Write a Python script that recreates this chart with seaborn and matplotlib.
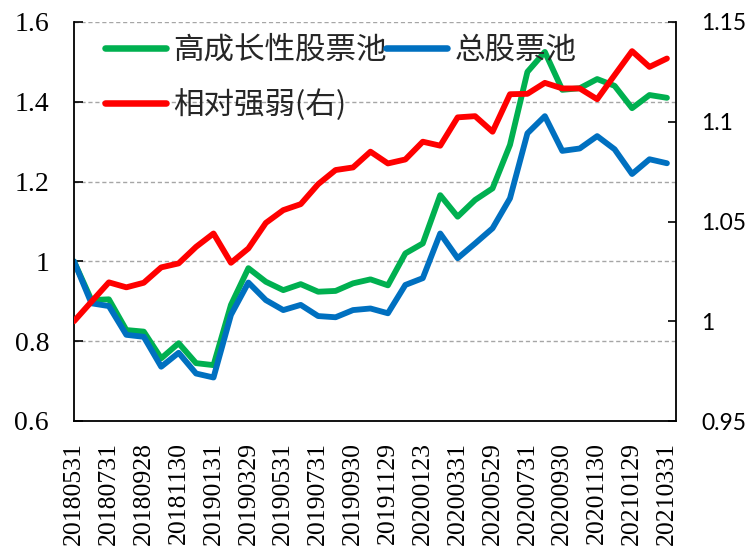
import matplotlib
matplotlib.use("Agg")
import matplotlib.pyplot as plt
import seaborn as sns
import pandas as pd
import numpy as np

dates = ["20180531", "20180629", "20180731", "20180831", "20180928", "20181031",
         "20181130", "20181228", "20190131", "20190228", "20190329", "20190430",
         "20190531", "20190628", "20190731", "20190830", "20190930", "20191031",
         "20191129", "20191231", "20200123", "20200228", "20200331", "20200430",
         "20200529", "20200630", "20200731", "20200831", "20200930", "20201030",
         "20201130", "20201231", "20210129", "20210226", "20210331"]

growth_pool = [1.000, 0.903, 0.905, 0.828, 0.824, 0.757, 0.795, 0.745, 0.740,
               0.891, 0.983, 0.949, 0.928, 0.943, 0.924, 0.926, 0.945, 0.955,
               0.940, 1.020, 1.045, 1.166, 1.112, 1.154, 1.183, 1.292, 1.475,
               1.525, 1.430, 1.434, 1.457, 1.440, 1.384, 1.417, 1.410]

total_pool = [1.000, 0.895, 0.888, 0.816, 0.811, 0.736, 0.771, 0.719, 0.709,
              0.866, 0.947, 0.903, 0.878, 0.891, 0.863, 0.860, 0.878, 0.882,
              0.870, 0.941, 0.958, 1.070, 1.008, 1.045, 1.083, 1.158, 1.321,
              1.364, 1.277, 1.283, 1.314, 1.281, 1.219, 1.256, 1.246]

relative_strength = [1.000, 1.0098, 1.0195, 1.017, 1.0193, 1.027, 1.029, 1.0373,
                     1.044, 1.0293, 1.0365, 1.0493, 1.0557, 1.0587, 1.0687, 1.0758,
                     1.0771, 1.085, 1.0791, 1.0811, 1.090, 1.088, 1.1022, 1.1028,
                     1.095, 1.1138, 1.114, 1.1195, 1.1167, 1.1167, 1.1113, 1.1234,
                     1.1354, 1.1275, 1.1317]

names = ["高成长性股票池", "总股票池", "相对强弱(右)"]
colors = ["#00B050", "#0070C0", "#FF0000"]

df = pd.DataFrame({"idx": np.arange(len(dates)), "date": dates,
                   "growth": growth_pool, "total": total_pool,
                   "rel": relative_strength})

sns.set_style("white")
serif_fonts = ["Liberation Serif", "Times New Roman", "Nimbus Roman", "DejaVu Serif"]
plt.rcParams["font.family"] = ["Noto Sans CJK SC", "DejaVu Sans"]

fig = plt.figure(figsize=(7.56, 5.52), dpi=100)
ax = fig.add_axes([74 / 756, 1 - 421 / 552, (676 - 74) / 756, (421 - 22) / 552])
ax2 = ax.twinx()

lw = 4.2
sns.lineplot(data=df, x="idx", y="growth", ax=ax, color=colors[0], lw=lw,
             label=names[0], legend=False)
sns.lineplot(data=df, x="idx", y="total", ax=ax, color=colors[1], lw=lw,
             label=names[1], legend=False)
sns.lineplot(data=df, x="idx", y="rel", ax=ax2, color=colors[2], lw=lw,
             label=names[2], legend=False)

n = len(dates)
ax.set_xlim(0, n - 1 + 0.52)
ax.set_ylim(0.6, 1.6)
ax2.set_ylim(0.95, 1.15)

ax.set_xticks(np.arange(n))
ax.set_xticklabels([d if i % 2 == 0 else "" for i, d in enumerate(dates)],
                   rotation=90)
yt = [0.6, 0.8, 1.0, 1.2, 1.4, 1.6]
ax.set_yticks(yt)
ax.set_yticklabels(["0.6", "0.8", "1", "1.2", "1.4", "1.6"])
yt2 = [0.95, 1.0, 1.05, 1.1, 1.15]
ax2.set_yticks(yt2)
ax2.set_yticklabels(["0.95", "1", "1.05", "1.1", "1.15"])

ax.set_xlabel("")
ax.set_ylabel("")
ax2.set_ylabel("")

ax.tick_params(axis="x", direction="in", length=5, width=1.2, pad=15, colors="black",
               labelsize=18.5)
ax.tick_params(axis="y", direction="in", length=6.5, width=1.2, pad=18, colors="black",
               labelsize=20)
ax2.tick_params(axis="y", direction="in", length=6, width=1.2, pad=18, colors="black",
                labelsize=16.5)
for lbl in ax.get_xticklabels() + ax.get_yticklabels():
    lbl.set_fontfamily(serif_fonts)
for lbl in ax2.get_yticklabels():
    lbl.set_fontfamily(["Lato", "DejaVu Sans"])

ax.yaxis.grid(True, linestyle=(0, (3, 2)), color="#A6A6A6", lw=1.0)
ax.xaxis.grid(False)
ax2.grid(False)

for a in (ax, ax2):
    a.spines["top"].set_visible(False)
    for s in ("left", "right", "bottom"):
        a.spines[s].set_color("black")
        a.spines[s].set_linewidth(1.3)
ax.spines["right"].set_visible(False)
ax2.spines["left"].set_visible(False)
ax2.spines["bottom"].set_visible(False)

h1, l1 = ax.get_legend_handles_labels()
h2, l2 = ax2.get_legend_handles_labels()
handles = [h1[0], h2[0], h1[1]]
labels = [l1[0], l2[0], l1[1]]
leg = ax2.legend(handles, labels, ncol=2, loc="upper left",
                 bbox_to_anchor=(31 / 602, 1 - 13 / 399), frameon=False,
                 prop={"family": ["Noto Sans CJK SC", "DejaVu Sans"], "size": 22},
                 handlelength=2.0, handletextpad=0.22, columnspacing=0.0,
                 labelspacing=0.75, borderpad=0, borderaxespad=0)
for line in leg.get_lines():
    line.set_linewidth(lw + 0.5)

fig.savefig("out.png", dpi=100)
